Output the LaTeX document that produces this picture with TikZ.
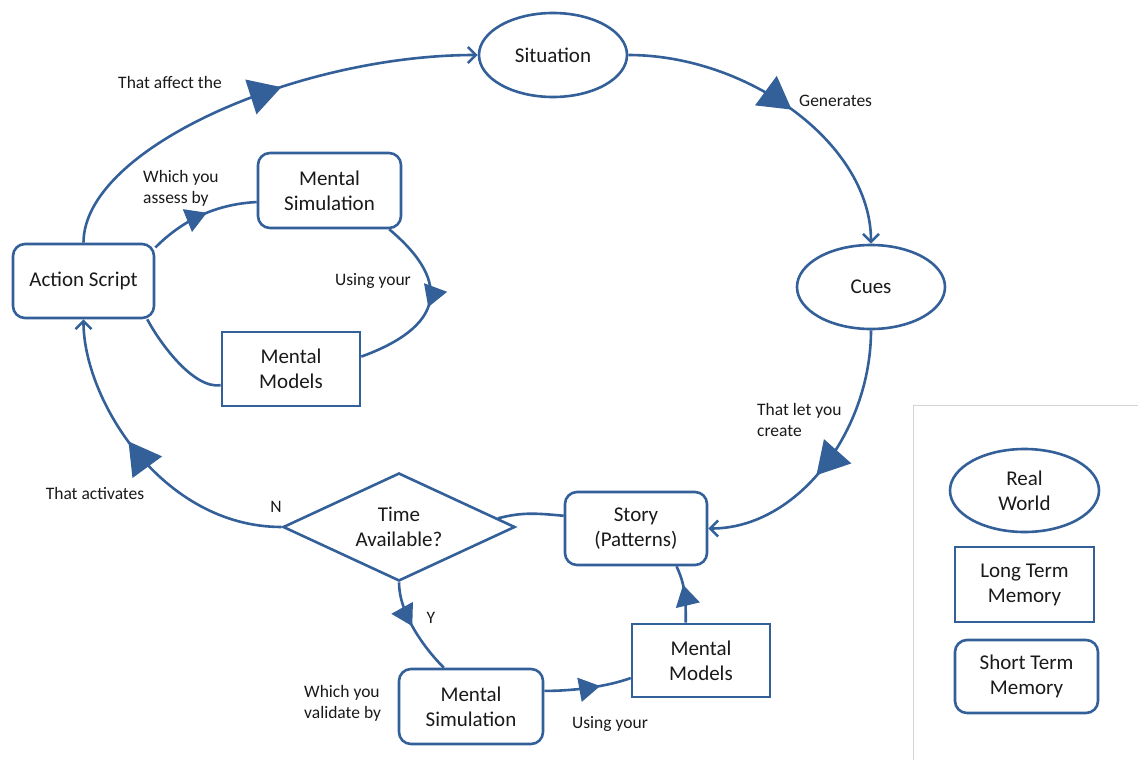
\documentclass[tikz,border=0pt]{standalone}
\usepackage{fontspec}
\setmainfont{Carlito}
\usetikzlibrary{shapes.geometric,arrows.meta,decorations.markings}
\definecolor{flowblue}{HTML}{34609A}
\definecolor{labelink}{HTML}{1A1A1A}
\definecolor{framegray}{HTML}{D4D4D4}

\begin{document}
\begin{tikzpicture}[x=1pt,y=1pt,
  every node/.style={text=labelink, align=center},
  shapeline/.style={draw=flowblue, line width=2.6pt, inner sep=0pt, font=\fontsize{21}{25}\selectfont},
  world/.style={shapeline, ellipse, minimum width=148pt, minimum height=84pt},
  ltm/.style={shapeline, rectangle, minimum width=138pt, minimum height=74pt},
  stm/.style={shapeline, rectangle, rounded corners=12pt, minimum width=142pt, minimum height=74pt},
  choice/.style={shapeline, diamond, aspect=2.1, minimum width=232pt, minimum height=108pt},
  flow/.style={draw=flowblue, line width=2.6pt},
  endtip/.style={-{Straight Barb[length=8pt,width=16pt]}},
  bigmark/.style={postaction={decorate}, decoration={markings,
      mark=at position #1 with {\arrow{Triangle[length=32pt,width=36pt]}}}},
  smallmark/.style={postaction={decorate}, decoration={markings,
      mark=at position #1 with {\arrow{Triangle[length=21pt,width=24pt]}}}},
  note/.style={font=\fontsize{17.5}{21}\selectfont, inner sep=0pt},
]
\fill[white] (0,0) rectangle (1138,-760);
\useasboundingbox (0,0) rectangle (1138,-760);

% legend panel frame
\draw[framegray, line width=1pt] (913,-762) -- (913,-405) -- (1140,-405);

% real world
\node[world] (sit)  at (553,-55)  {Situation};
\node[world] (cues) at (871,-287) {Cues};

% short and long term memory
\node[stm, minimum width=141pt] (as) at (83.5,-281) {Action Script};
\node[stm, minimum width=143pt, minimum height=75pt] (mst) at (329.5,-190.5) {Mental\\Simulation};
\node[ltm] (mmt) at (291,-369) {Mental\\Models};
\node[choice] (tav) at (399,-527) {Time\\Available?};
\node[stm, minimum height=73pt] (story) at (636,-528.5) {Story\\(Patterns)};
\node[ltm, minimum height=73pt] (mmb) at (701,-660.5) {Mental\\Models};
\node[stm, minimum width=144pt, minimum height=75pt] (msb) at (471,-706.5) {Mental\\Simulation};

% legend
\node[world, minimum width=149pt, minimum height=83pt] (lgw) at (1024.5,-490.5) {Real\\World};
\node[ltm, minimum width=139pt, minimum height=75pt] (lgl) at (1024.5,-584.5) {Long Term\\Memory};
\node[stm, minimum width=143pt, minimum height=73pt] (lgs) at (1026.5,-676.5) {Short Term\\Memory};

% outer cycle
\draw[flow, endtip, bigmark=0.57] (as.north) to[out=90,in=180,out distance=94pt,in distance=180pt] (sit.west);
\draw[flow, endtip, bigmark=0.52] (sit.east) to[out=0,in=90,out distance=120pt,in distance=100pt] (cues.north);
\draw[flow, endtip, bigmark=0.56] (cues.south) to[out=-90,in=0,out distance=100pt,in distance=90pt] (story.east);
\draw[flow, endtip, bigmark=0.58] (tav.west) to[out=180,in=-90,out distance=120pt,in distance=80pt] (as.south);

% assessment loop
\draw[flow, smallmark=0.55] (as.25) to[out=45,in=183,out distance=40pt,in distance=40pt] (mst.189);
\draw[flow, smallmark=0.52] (mst.-33) to[out=-40,in=20,out distance=85pt,in distance=85pt] (mmt.10);
\draw[flow] (mmt.193) to[out=188,in=-62,out distance=28pt,in distance=26pt] (as.-31);

% validation loop
\draw[flow] (story.170) to[out=175,in=15] (tav.5);
\draw[flow, smallmark=0.47] (tav.south) to[out=-90,in=135,out distance=30pt,in distance=30pt] (msb.125);
\draw[flow, smallmark=0.64] (msb.12) to[out=0,in=200,out distance=30pt,in distance=25pt] (mmb.194);
\draw[flow, smallmark=0.66] (mmb.112) to[out=90,in=-65] (story.-43.5);

% connector labels
\node[note] (t1) at (170,-82) {That affect the};
\node[note, anchor=west] (t2) at (799,-101) {Generates};
\node[note, anchor=west, align=left] (t3) at (757,-419.5) {That let you\\create};
\node[note] (t4) at (95,-493) {That activates};
\node[note] (tn) at (276,-507) {N};
\node[note, anchor=west, align=left] (t5) at (143,-188.5) {Which you\\assess by};
\node[note, anchor=east] (t6) at (411,-281) {Using your};
\node[note] (ty) at (431,-618) {Y};
\node[note, anchor=west, align=left] (t7) at (304,-703) {Which you\\validate by};
\node[note] (t8) at (610,-724) {Using your};
\end{tikzpicture}
\end{document}
